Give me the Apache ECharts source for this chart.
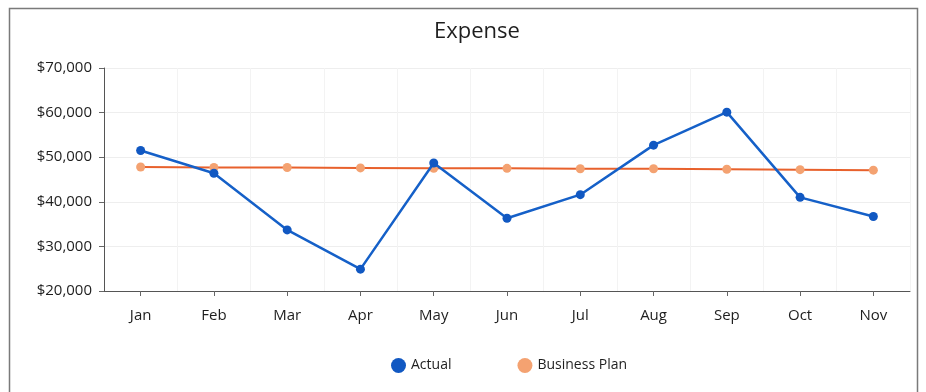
<!DOCTYPE html>
<html>
<head>
<meta charset="utf-8">
<title>Expense</title>
<script src="https://cdn.jsdelivr.net/npm/echarts@6/dist/echarts.min.js"></script>
<style>
  html, body { margin: 0; padding: 0; background: #ffffff; }
  #chart { width: 926px; height: 392px; }
</style>
</head>
<body>
<div id="chart"></div>
<script>
// Monthly expense: actual spend against the business plan
const months = ['Jan', 'Feb', 'Mar', 'Apr', 'May', 'Jun', 'Jul', 'Aug', 'Sep', 'Oct', 'Nov'];
const actual = [51500, 46400, 33700, 24900, 48700, 36300, 41600, 52700, 60100, 41000, 36700];
const businessPlan = [47800, 47700, 47700, 47600, 47500, 47500, 47400, 47400, 47300, 47200, 47100];
const yTicks = { min: 20000, max: 70000, step: 10000 };

const FONT = '"Open Sans", "DejaVu Sans", sans-serif';
const money = v => '$' + v.toLocaleString('en-US');

const chart = echarts.init(document.getElementById('chart'), null, { renderer: 'canvas' });

chart.setOption({
  backgroundColor: '#ffffff',
  animation: false,
  textStyle: { fontFamily: FONT },
  title: {
    text: 'Expense',
    left: 429,
    top: 16,
    textStyle: { fontFamily: FONT, fontSize: 22, fontWeight: 'normal', color: '#1e1e1e' }
  },
  graphic: [{
    type: 'rect',
    shape: { x: 9.5, y: 8.5, width: 908, height: 400 },
    style: { fill: 'none', stroke: '#7a7a7a', lineWidth: 1.5 },
    silent: true,
    z: -1
  }],
  legend: {
    left: 386,
    top: 353,
    icon: 'circle',
    itemWidth: 15,
    itemHeight: 15,
    itemGap: 66,
    textStyle: { fontFamily: FONT, fontSize: 14, color: '#1e1e1e' },
    data: ['Actual', 'Business Plan']
  },
  grid: { left: 104, right: 16, top: 68, bottom: 101, containLabel: false },
  xAxis: {
    type: 'category',
    data: months,
    boundaryGap: true,
    axisLine: { lineStyle: { color: '#555555', width: 1 } },
    axisTick: { show: true, alignWithLabel: true, length: 5, lineStyle: { color: '#666666' } },
    splitLine: { show: true, lineStyle: { color: '#f3f3f3', width: 1 } },
    axisLabel: { color: '#1e1e1e', fontSize: 15, margin: 17, fontFamily: FONT }
  },
  yAxis: {
    type: 'value',
    min: yTicks.min,
    max: yTicks.max,
    interval: yTicks.step,
    axisLine: { show: true, lineStyle: { color: '#555555', width: 1 } },
    axisTick: { show: true, length: 5, lineStyle: { color: '#666666' } },
    splitLine: { show: true, lineStyle: { color: '#eeeeee', width: 1 } },
    axisLabel: { color: '#1e1e1e', fontSize: 15, margin: 12, fontFamily: FONT, formatter: money }
  },
  series: [
    {
      name: 'Business Plan',
      type: 'line',
      data: businessPlan,
      symbol: 'circle',
      symbolSize: 9,
      itemStyle: { color: '#f4a271' },
      lineStyle: { color: '#e8612c', width: 2 },
      z: 2
    },
    {
      name: 'Actual',
      type: 'line',
      data: actual,
      symbol: 'circle',
      symbolSize: 9,
      itemStyle: { color: '#1158c2' },
      lineStyle: { color: '#1560c8', width: 2.5 },
      z: 3
    }
  ]
});
</script>
</body>
</html>
